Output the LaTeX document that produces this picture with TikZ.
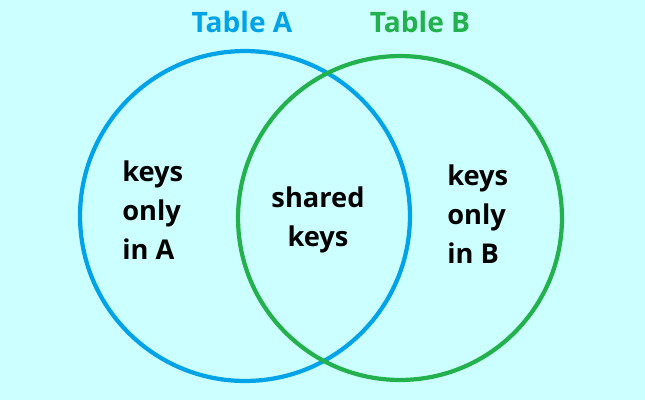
\documentclass[tikz,border=0pt]{standalone}
\usepackage{fontspec}
\setmainfont{Open Sans}[BoldFont={Open Sans Bold}]
\definecolor{bgcyan}{RGB}{204,255,255}
\definecolor{tblue}{RGB}{0,162,232}
\definecolor{tgreen}{RGB}{34,177,76}
\begin{document}
\begin{tikzpicture}[x=0.02cm,y=-0.02cm,font=\bfseries\fontsize{15.5}{22}\selectfont]
    \tikzstyle{ring}=[line width=2.4pt]
    \tikzstyle{title}=[font=\bfseries\fontsize{16}{18}\selectfont]
    \tikzstyle{lbl}=[align=left, text=black, inner sep=0pt]

    \fill[bgcyan] (0,0) rectangle (645,400);
    \useasboundingbox (0,0) rectangle (645,400);

    \coordinate (cA) at (245,216);
    \coordinate (cB) at (400,218);

    \draw[ring, tblue] (cA) circle (3.3cm);
    \draw[ring, tgreen] (cB) circle (3.24cm);

    \node[title, text=tblue] (tA) at (242,22) {Table A};
    \node[title, text=tgreen] (tB) at (420,22) {Table B};

    \node[lbl, anchor=west] (onlyA) at (122,210) {keys\\only\\in A};
    \node[lbl, align=center] (shared) at (318,220) {shared\\keys};
    \node[lbl, anchor=west] (onlyB) at (447,214) {keys\\only\\in B};
\end{tikzpicture}
\end{document}
